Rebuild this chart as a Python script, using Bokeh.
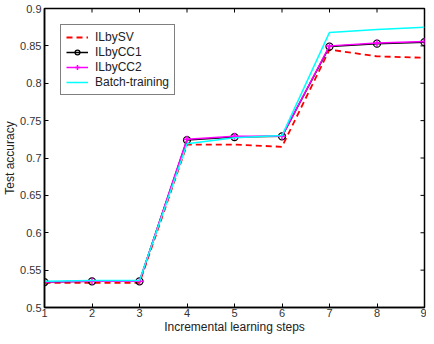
import math
from bokeh.plotting import figure
from bokeh.models import FixedTicker, Range1d
from bokeh.embed import file_html
from bokeh.resources import INLINE

steps = [1, 2, 3, 4, 5, 6, 7, 8, 9]
ilbysv = [0.533, 0.533, 0.533, 0.718, 0.718, 0.715, 0.845, 0.836, 0.834]
ilbycc1 = [0.534, 0.535, 0.535, 0.724, 0.728, 0.729, 0.849, 0.853, 0.855]
ilbycc2 = [0.534, 0.535, 0.535, 0.725, 0.729, 0.729, 0.850, 0.854, 0.856]
batch = [0.535, 0.536, 0.536, 0.719, 0.727, 0.730, 0.868, 0.872, 0.875]
x_ticks = [1, 2, 3, 4, 5, 6, 7, 8, 9]
y_ticks = [0.5, 0.55, 0.6, 0.65, 0.7, 0.75, 0.8, 0.85, 0.9]
x_min, x_max = 1, 9
y_min, y_max = 0.5, 0.9

FONT = "Liberation Sans"

p = figure(width=426, height=336, output_backend="svg", toolbar_location=None,
           x_range=Range1d(x_min, x_max), y_range=Range1d(y_min, y_max),
           min_border_left=10, min_border_right=2, min_border_top=8, min_border_bottom=10)
p.xgrid.visible = False
p.ygrid.visible = False
p.outline_line_color = "black"
p.outline_line_width = 1.5
p.border_fill_color = "white"

p.line(steps, ilbysv, color="#ff0000", line_width=1.8, line_dash="6 4", legend_label="ILbySV")
p.line(steps, ilbycc1, color="black", line_width=1.5, legend_label="ILbyCC1")
p.scatter(steps, ilbycc1, marker="circle", size=7, fill_color=None, line_color="black",
          line_width=1.3, legend_label="ILbyCC1")
p.line(steps, ilbycc2, color="#ff00ff", line_width=1.5, legend_label="ILbyCC2")
p.scatter(steps, ilbycc2, marker="cross", size=7, line_color="#ff00ff",
          line_width=1.5, legend_label="ILbyCC2")
p.line(steps, batch, color="#00ffff", line_width=1.5, legend_label="Batch-training")

# inward tick marks on the top and right edges (half of each dash is clipped by the frame)
p.scatter(x_ticks, [y_max] * len(x_ticks), marker="dash", angle=math.pi / 2, size=8,
          line_color="black", line_width=1)
p.scatter([x_max] * len(y_ticks), y_ticks, marker="dash", size=8,
          line_color="black", line_width=1)

for ax in (p.xaxis[0], p.yaxis[0]):
    ax.axis_line_width = 1.5
    ax.axis_line_color = "black"
    ax.major_tick_in = 4
    ax.major_tick_out = 0
    ax.minor_tick_line_color = None
    ax.major_label_text_font = FONT
    ax.major_label_text_font_size = "11px"
    ax.major_label_text_color = "#333333"
    ax.axis_label_text_font = FONT
    ax.axis_label_text_font_size = "12px"
    ax.axis_label_text_font_style = "normal"
    ax.axis_label_text_color = "#222222"

p.xaxis[0].ticker = FixedTicker(ticks=x_ticks)
p.yaxis[0].ticker = FixedTicker(ticks=y_ticks)
p.yaxis[0].major_label_overrides = {0.5: "0.5", 0.6: "0.6", 0.7: "0.7", 0.8: "0.8", 0.9: "0.9"}
p.xaxis[0].axis_label = "Incremental learning steps"
p.yaxis[0].axis_label = "Test accuracy"
p.xaxis[0].axis_label_standoff = 0
p.yaxis[0].axis_label_standoff = 0
p.xaxis[0].major_label_standoff = 1
p.yaxis[0].major_label_standoff = 3

lg = p.legend[0]
lg.location = "top_left"
lg.margin = 16
lg.border_line_color = "black"
lg.border_line_width = 1
lg.label_text_font = FONT
lg.label_text_font_size = "12px"
lg.label_text_color = "#222222"
lg.glyph_width = 22
lg.glyph_height = 12
lg.label_height = 12
lg.spacing = 1
lg.padding = 5
lg.label_standoff = 7
lg.background_fill_alpha = 1

open("out.html", "w").write(file_html(p, INLINE))
